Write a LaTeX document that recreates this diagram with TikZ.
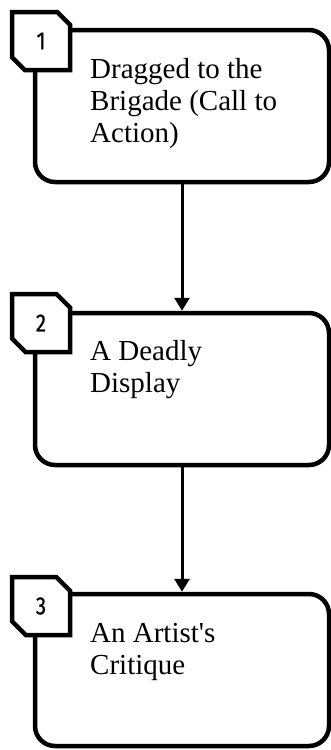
\documentclass[tikz,border=0pt]{standalone}
\usepackage{fontspec}
\setmainfont{Liberation Serif}
\newfontfamily\numfont[FakeStretch=0.82,FakeBold=0.6]{Fira Sans}
\usetikzlibrary{arrows.meta,shapes.misc}
\tikzset{
  stepbox/.style={draw=black, line width=4.5pt, rounded corners=20pt, rectangle,
    minimum width=294pt, minimum height=152pt, inner sep=0pt, fill=white},
  badge/.style={draw=black, line width=4.5pt, fill=white, chamfered rectangle,
    chamfered rectangle corners={north east,south west},
    chamfered rectangle xsep=10pt, chamfered rectangle ysep=10pt,
    minimum width=58pt, minimum height=58pt, inner sep=0pt,
    font=\numfont\fontsize{25}{25}\selectfont},
  label/.style={anchor=base west, align=left, inner sep=0pt,
    font=\fontsize{29}{32}\selectfont},
  flow/.style={line width=3pt, -{Triangle[width=15pt,length=13pt]}},
}
\begin{document}
\begin{tikzpicture}[x=1pt,y=-1pt]
\useasboundingbox (0,0) rectangle (331,750);
\node[stepbox] (b1) at (182,106) {};
\node[stepbox] (b2) at (182,389) {};
\node[stepbox] (b3) at (182,670) {};
\node[badge] (n1) at (41,41) {1};
\node[badge] (n2) at (41,323) {2};
\node[badge] (n3) at (41,606) {3};
\node[label] (t1) at (90,142) {Dragged to the\\Brigade (Call to\\Action)};
\node[label] (t2) at (90,392) {A Deadly\\Display};
\node[label] (t3) at (90,674) {An Artist\textquotesingle s\\Critique};
\draw[flow] (b1.south) -- (b2.north);
\draw[flow] (b2.south) -- (b3.north);
\end{tikzpicture}
\end{document}
